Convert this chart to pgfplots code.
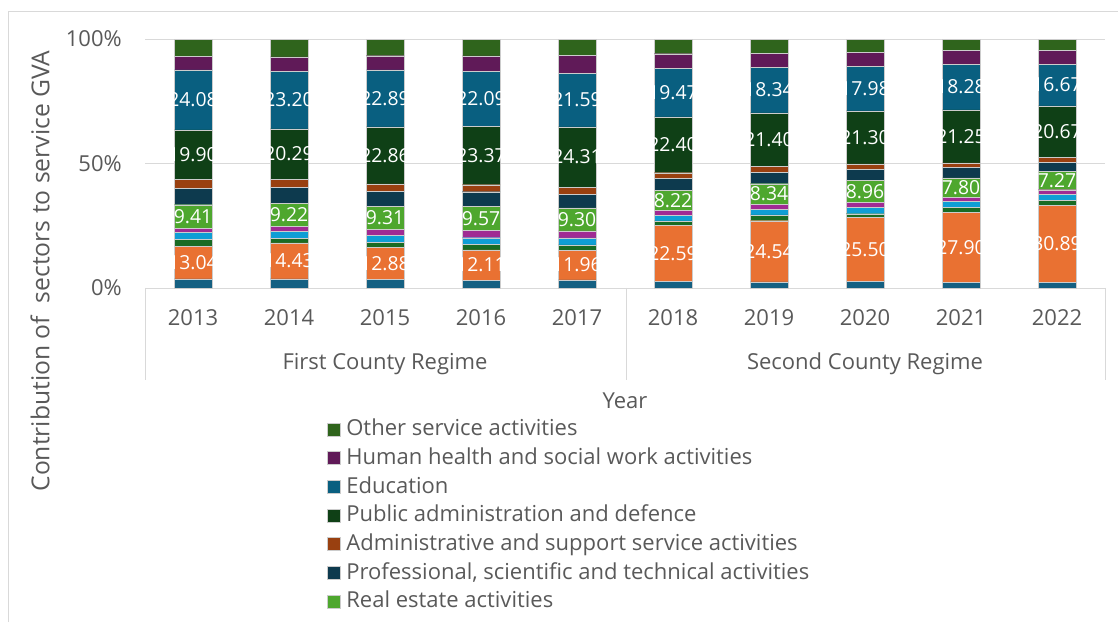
\documentclass[border=0pt]{standalone}
\usepackage{pgfplots}
\pgfplotsset{compat=1.18}
\usepackage{pgfplotstable}
\usepackage{fontspec}
\setmainfont{Open Sans}
\definecolor{txt}{HTML}{595959}
\definecolor{grd}{HTML}{D9D9D9}
\definecolor{cA}{HTML}{156082}
\definecolor{cB}{HTML}{E97132}
\definecolor{cC}{HTML}{196B24}
\definecolor{cD}{HTML}{0F9ED5}
\definecolor{cE}{HTML}{A02B93}
\definecolor{cF}{HTML}{4EA72E}
\definecolor{cG}{HTML}{0D3A4E}
\definecolor{cH}{HTML}{994010}
\definecolor{cI}{HTML}{0F4016}
\definecolor{cJ}{HTML}{095F80}
\definecolor{cK}{HTML}{601A58}
\definecolor{cL}{HTML}{2F641C}
\newcommand\fs{\fontsize{16.5}{19.8}\selectfont}
\newcommand\fl{\fontsize{14.5}{17}\selectfont}
\pgfplotstableread{
x db org dg lb mag re prof adm pub edu hlth oth
0 3.7 13.04 2.7 2.9 1.7 9.41 6.7 3.5 19.90 24.08 5.3 7.07
1 3.7 14.43 1.7 3.0 1.9 9.22 6.6 3.1 20.29 23.20 5.7 7.16
2 3.5 12.88 1.85 3.0 2.2 9.31 6.1 3.0 22.86 22.89 5.7 6.71
3 3.2 12.11 2.1 2.8 2.9 9.57 6.0 2.8 23.37 22.09 6.3 6.76
4 3.3 11.96 2.05 2.85 2.75 9.30 5.45 2.75 24.31 21.59 7.1 6.59
5 2.7 22.59 1.7 2.3 1.8 8.22 4.6 2.4 22.40 19.47 5.9 5.92
6 2.5 24.54 2.3 2.2 2.0 8.34 4.6 2.5 21.40 18.34 5.45 5.83
7 2.8 25.50 1.55 2.6 1.85 8.96 4.3 2.25 21.30 17.98 5.6 5.31
8 2.4 27.90 2.0 2.4 1.75 7.80 4.15 1.9 21.25 18.28 5.5 4.67
9 2.4 30.89 1.9 2.3 2.0 7.27 3.75 2.0 20.67 16.67 5.5 4.65
}\data
\pgfplotsset{
  sq/.style={legend image code/.code={\fill[##1] (0pt,-4.2pt) rectangle (9.75pt,5.55pt);}},
  seg/.style={fill=#1, draw=white!80!black, line width=0.25pt, sq},
  lbl/.style={draw=none, mark=none, point meta=explicit,
    nodes near coords={\pgfmathprintnumber[fixed,fixed zerofill,precision=2,assume math mode=true]{\pgfplotspointmeta}},
    nodes near coords style={anchor=center, text=white, font=\fl, inner sep=0pt}},
  geom/.style={at={(108.75pt,250.5pt)}, anchor=south west, scale only axis,
    width=720pt, height=186.75pt, xmin=-0.5, xmax=9.5, ymin=0, ymax=100},
}
\begin{document}
\begin{tikzpicture}
\useasboundingbox (0pt,0pt) rectangle (838.5pt,466.5pt);
\begin{scope}[x=0.75pt,y=0.75pt]
\draw[grd, line width=0.75pt] (8,0) -- (8,610) -- (1118,610);
\end{scope}
\begin{axis}[geom,
  ybar stacked, bar width=28.5pt,
  axis line style={draw=none}, tick style={draw=none}, major tick length=0pt,
  ymajorgrids, grid style={grd, line width=0.75pt},
  ytick={0,50,100}, yticklabels={0\%,50\%,100\%},
  yticklabel style={anchor=east, inner sep=0pt, xshift=-17.25pt, font=\fs, text=txt},
  xtick={0,1,2,3,4,5,6,7,8,9},
  xticklabels={2013,2014,2015,2016,2017,2018,2019,2020,2021,2022},
  xticklabel style={anchor=center, inner sep=0pt, yshift=-22.5pt, font=\fs, text=txt},
  legend style={at={(0.1896,-0.530)}, anchor=north west, draw=none, fill=none,
    inner sep=0pt, outer sep=0pt, row sep=6pt, font=\fs, text=txt,
    nodes={inner sep=0pt, text height=12pt, text depth=3.5pt},
    /tikz/every odd column/.append style={column sep=4.5pt}},
  legend cell align=left,
  reverse legend,
]
\addplot[seg=cA, forget plot] table[x=x,y=db]{\data};
\addplot[seg=cB, forget plot] table[x=x,y=org]{\data};
\addplot[seg=cC, forget plot] table[x=x,y=dg]{\data};
\addplot[seg=cD, forget plot] table[x=x,y=lb]{\data};
\addplot[seg=cE, forget plot] table[x=x,y=mag]{\data};
\addplot[seg=cF] table[x=x,y=re]{\data};
\addlegendentry{Real estate activities}
\addplot[seg=cG] table[x=x,y=prof]{\data};
\addlegendentry{Professional, scientific and technical activities}
\addplot[seg=cH] table[x=x,y=adm]{\data};
\addlegendentry{Administrative and support service activities}
\addplot[seg=cI] table[x=x,y=pub]{\data};
\addlegendentry{Public administration and defence}
\addplot[seg=cJ] table[x=x,y=edu]{\data};
\addlegendentry{Education}
\addplot[seg=cK] table[x=x,y=hlth]{\data};
\addlegendentry{Human health and social work activities}
\addplot[seg=cL] table[x=x,y=oth]{\data};
\addlegendentry{Other service activities}
\end{axis}
\begin{axis}[geom, axis lines=none, xtick=\empty, ytick=\empty, clip=false]
\addplot[lbl] table[x=x, y expr={\thisrow{db}+0.5*\thisrow{org}}, meta=org]{\data};
\addplot[lbl] table[x=x, y expr={\thisrow{db}+\thisrow{org}+\thisrow{dg}+\thisrow{lb}+\thisrow{mag}+0.5*\thisrow{re}}, meta=re]{\data};
\addplot[lbl] table[x=x, y expr={\thisrow{db}+\thisrow{org}+\thisrow{dg}+\thisrow{lb}+\thisrow{mag}+\thisrow{re}+\thisrow{prof}+\thisrow{adm}+0.5*\thisrow{pub}}, meta=pub]{\data};
\addplot[lbl] table[x=x, y expr={\thisrow{db}+\thisrow{org}+\thisrow{dg}+\thisrow{lb}+\thisrow{mag}+\thisrow{re}+\thisrow{prof}+\thisrow{adm}+\thisrow{pub}+0.5*\thisrow{edu}}, meta=edu]{\data};
\end{axis}
\begin{scope}[x=0.75pt,y=0.75pt]
\draw[grd, line width=0.75pt] (145,334) -- (145,242);
\draw[grd, line width=0.75pt] (626,334) -- (626,242);
\draw[grd, line width=0.75pt] (1105,334) -- (1105,242);
\node[font=\fs, text=txt] at (385,258) {First County Regime};
\node[font=\fs, text=txt] at (865,258) {Second County Regime};
\node[font=\fs, text=txt] at (625,221) {Year};
\node[font=\fontsize{18.5}{22}\selectfont, text=txt, rotate=90] at (40,351) {Contribution of\ \ sectors to service GVA};
\end{scope}
\end{tikzpicture}
\end{document}
